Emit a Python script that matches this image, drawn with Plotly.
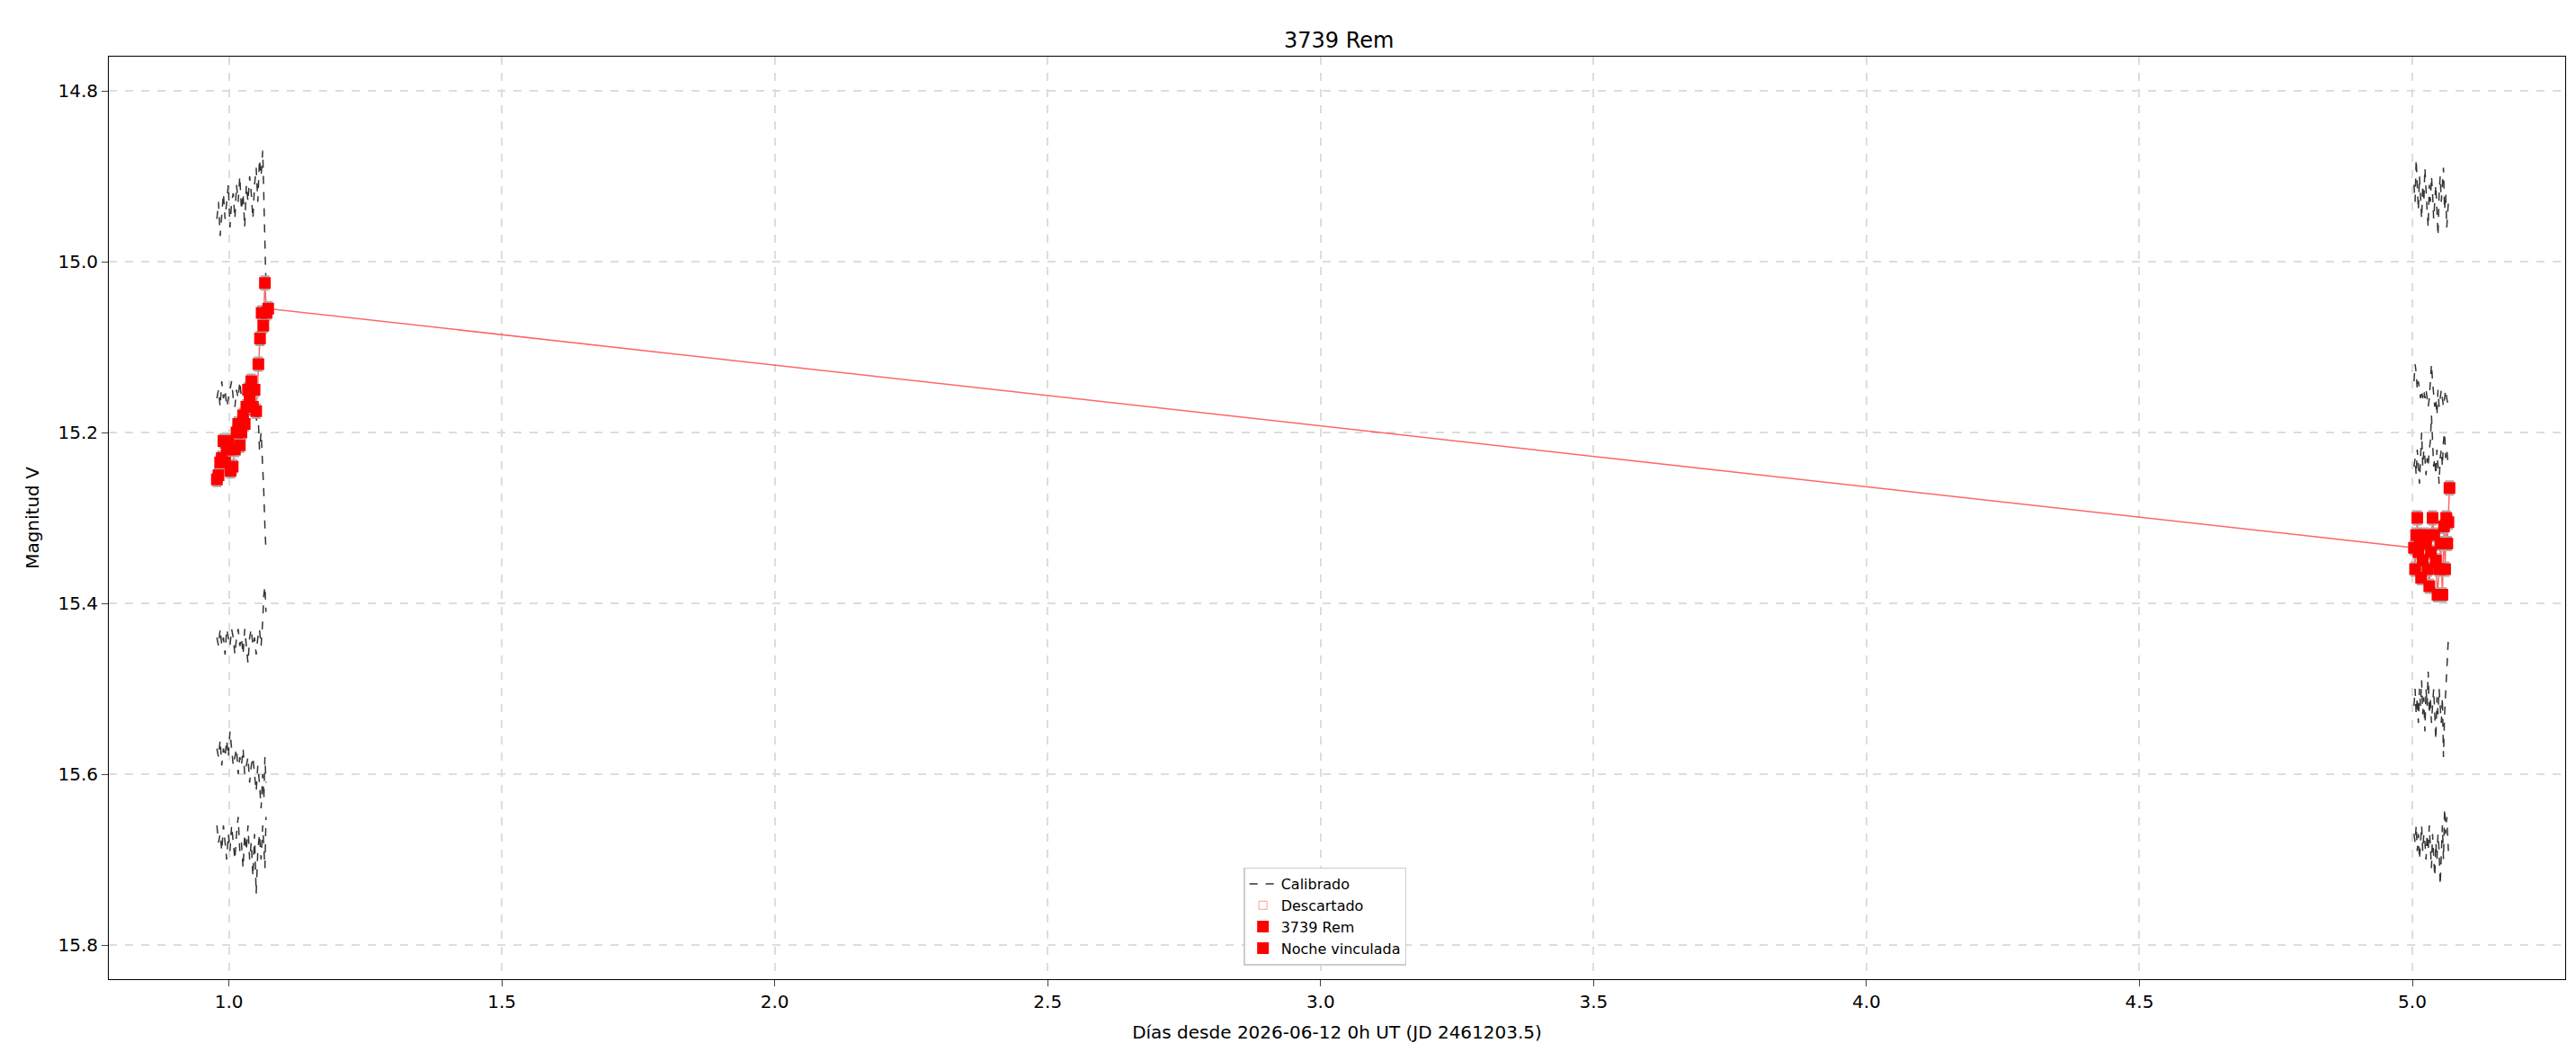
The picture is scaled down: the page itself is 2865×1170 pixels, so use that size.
import plotly.graph_objects as go

# comparison star times per night
t_n1 = [0.978, 0.981, 0.984, 0.987, 0.990, 0.993, 0.996, 0.999, 1.002, 1.005, 1.008, 1.011, 1.014,
        1.017, 1.020, 1.023, 1.026, 1.029, 1.032, 1.035, 1.038, 1.041, 1.044, 1.047, 1.050, 1.053,
        1.056, 1.059, 1.062, 1.064, 1.066, 1.068]
t_n2 = [5.003, 5.005, 5.007, 5.009, 5.011, 5.013, 5.015, 5.017, 5.019, 5.021, 5.023, 5.025, 5.027,
        5.029, 5.031, 5.033, 5.035, 5.037, 5.039, 5.041, 5.043, 5.045, 5.047, 5.049, 5.051, 5.053,
        5.055, 5.057, 5.059, 5.061, 5.063, 5.066]

# calibrated comparison stars (night 1)
comp_n1 = [
    [14.95, 14.93, 14.97, 14.94, 14.92, 14.95, 14.93, 14.91, 14.96, 14.93, 14.92, 14.95, 14.91, 14.93,
     14.90, 14.94, 14.92, 14.96, 14.91, 14.93, 14.90, 14.92, 14.95, 14.91, 14.89, 14.93, 14.88, 14.90,
     14.87, 14.92, 14.98, 15.03],
    [15.16, 15.15, 15.17, 15.14, 15.16, 15.15, 15.17, 15.16, 15.15, 15.14, 15.16, 15.17, 15.15, 15.16,
     15.14, 15.16, 15.17, 15.15, 15.14, 15.16, 15.18, 15.15, 15.17, 15.16, 15.19, 15.17, 15.22, 15.20,
     15.24, 15.27, 15.31, 15.34],
    [15.44, 15.45, 15.43, 15.45, 15.44, 15.46, 15.43, 15.44, 15.45, 15.43, 15.44, 15.46, 15.44, 15.43,
     15.45, 15.44, 15.46, 15.43, 15.45, 15.47, 15.44, 15.43, 15.45, 15.44, 15.46, 15.44, 15.43, 15.45,
     15.42, 15.39, 15.38, 15.41],
    [15.57, 15.58, 15.56, 15.59, 15.57, 15.58, 15.56, 15.58, 15.55, 15.57, 15.59, 15.58, 15.57, 15.60,
     15.58, 15.59, 15.57, 15.60, 15.59, 15.58, 15.61, 15.59, 15.58, 15.60, 15.62, 15.59, 15.61, 15.64,
     15.60, 15.63, 15.58, 15.61],
    [15.66, 15.68, 15.67, 15.69, 15.66, 15.68, 15.70, 15.67, 15.69, 15.66, 15.68, 15.70, 15.67, 15.65,
     15.69, 15.68, 15.71, 15.67, 15.69, 15.66, 15.70, 15.68, 15.72, 15.67, 15.74, 15.69, 15.67, 15.70,
     15.66, 15.68, 15.71, 15.65],
]
# calibrated comparison stars (night 2)
comp_n2 = [
    [14.91, 14.93, 14.88, 14.92, 14.94, 14.90, 14.92, 14.95, 14.91, 14.93, 14.89, 14.92, 14.94, 14.96,
     14.91, 14.93, 14.90, 14.92, 14.95, 14.93, 14.91, 14.94, 14.97, 14.92, 14.90, 14.93, 14.91, 14.89,
     14.94, 14.92, 14.96, 14.93],
    [15.14, 15.12, 15.13, 15.15, 15.14, 15.15, 15.16, 15.15, 15.16, 15.15, 15.16, 15.15, 15.16, 15.17,
     15.16, 15.14, 15.12, 15.14, 15.16, 15.17, 15.16, 15.18, 15.15, 15.17, 15.16, 15.15, 15.16, 15.17,
     15.16, 15.15, 15.16, 15.17],
    [15.24, 15.23, 15.25, 15.22, 15.24, 15.26, 15.23, 15.20, 15.24, 15.22, 15.23, 15.25, 15.23, 15.24,
     15.22, 15.21, 15.18, 15.22, 15.24, 15.23, 15.25, 15.22, 15.24, 15.26, 15.23, 15.22, 15.24, 15.21,
     15.20, 15.23, 15.22, 15.24],
    [15.52, 15.50, 15.53, 15.51, 15.54, 15.50, 15.52, 15.49, 15.53, 15.51, 15.55, 15.50, 15.52, 15.48,
     15.53, 15.51, 15.54, 15.52, 15.50, 15.53, 15.56, 15.51, 15.53, 15.50, 15.52, 15.54, 15.51, 15.58,
     15.53, 15.50, 15.47, 15.44],
    [15.67, 15.68, 15.66, 15.69, 15.67, 15.70, 15.68, 15.66, 15.69, 15.67, 15.68, 15.70, 15.67, 15.69,
     15.66, 15.68, 15.71, 15.67, 15.69, 15.72, 15.68, 15.70, 15.67, 15.69, 15.73, 15.68, 15.66, 15.70,
     15.64, 15.67, 15.65, 15.69],
]

# target 3739 Rem
t_rem = [0.978, 0.981, 0.984, 0.987, 0.990, 0.993, 0.996, 0.999, 1.003, 1.007, 1.011, 1.014, 1.017,
         1.020, 1.023, 1.026, 1.029, 1.032, 1.035, 1.038, 1.041, 1.044, 1.047, 1.050, 1.054, 1.057,
         1.060, 1.063, 1.066, 1.069, 1.072]
m_rem = [15.255, 15.25, 15.235, 15.23, 15.21, 15.235, 15.22, 15.21, 15.245, 15.24, 15.22, 15.20,
         15.19, 15.215, 15.20, 15.18, 15.19, 15.17, 15.15, 15.16, 15.14, 15.17, 15.15, 15.175, 15.12,
         15.09, 15.06, 15.075, 15.025, 15.06, 15.055]
# linked night
t_link = [5.003, 5.005, 5.007, 5.009, 5.011, 5.013, 5.016, 5.019, 5.022, 5.025, 5.028, 5.031, 5.034,
          5.037, 5.040, 5.043, 5.046, 5.049, 5.052, 5.055, 5.058, 5.060, 5.062, 5.064, 5.066, 5.068]
m_link = [15.335, 15.36, 15.32, 15.30, 15.34, 15.33, 15.37, 15.35, 15.32, 15.33, 15.36, 15.38, 15.34,
          15.30, 15.32, 15.35, 15.39, 15.36, 15.33, 15.39, 15.31, 15.36, 15.30, 15.33, 15.305, 15.265]
err = 0.008

fig = go.Figure()

for i, ys in enumerate(comp_n1 + comp_n2):
    xs = t_n1 if i < len(comp_n1) else t_n2
    fig.add_trace(go.Scatter(
        x=xs, y=ys, mode='lines', name='Calibrado', legendgroup='cal',
        showlegend=(i == 0), line=dict(color='#333333', width=1.5, dash='dash')
    ))

# line joining all target points
fig.add_trace(go.Scatter(
    x=t_rem + t_link, y=m_rem + m_link, mode='lines', showlegend=False,
    line=dict(color='rgba(255,0,0,0.6)', width=1.5), hoverinfo='skip'
))

fig.add_trace(go.Scatter(
    x=[None], y=[None], mode='markers', name='Descartado',
    marker=dict(symbol='square-open', size=9, color='rgba(255,90,90,0.6)')
))

for name, xs, ys in [('3739 Rem', t_rem, m_rem), ('Noche vinculada', t_link, m_link)]:
    fig.add_trace(go.Scatter(
        x=xs, y=ys, mode='markers', name=name,
        marker=dict(symbol='square', size=13, color='red'),
        error_y=dict(type='constant', value=err, color='#aaaaaa', thickness=2, width=5)
    ))

axis_common = dict(
    showline=True, linecolor='black', mirror=True, ticks='outside', ticklen=7,
    showgrid=True, gridcolor='#dddddd', griddash='dash', gridwidth=1.5,
    zeroline=False, tickfont=dict(size=20, color='black')
)

fig.update_layout(
    width=2865, height=1170,
    title=dict(text='3739 Rem', x=0.517, xanchor='center', yref='paper', y=1, yanchor='bottom',
               pad=dict(b=10), font=dict(size=24, color='black')),
    font=dict(family='DejaVu Sans', color='black'),
    plot_bgcolor='white', paper_bgcolor='white',
    margin=dict(l=113, r=20, t=55, b=89),
    xaxis=dict(range=[0.78, 5.28], dtick=0.5, tickformat='.1f',
               title=dict(text='Días desde 2026-06-12 0h UT (JD 2461203.5)', font=dict(size=20)),
               **axis_common),
    yaxis=dict(range=[15.84, 14.76], tickvals=[14.8, 15.0, 15.2, 15.4, 15.6, 15.8],
               tickformat='.1f',
               title=dict(text='Magnitud V', font=dict(size=20)), **axis_common),
    legend=dict(x=0.462, y=0.015, xanchor='left', yanchor='bottom', tracegroupgap=0,
                bgcolor='rgba(255,255,255,0.85)', bordercolor='#cccccc', borderwidth=1.5,
                font=dict(size=16))
)

fig.write_html("out.html")
